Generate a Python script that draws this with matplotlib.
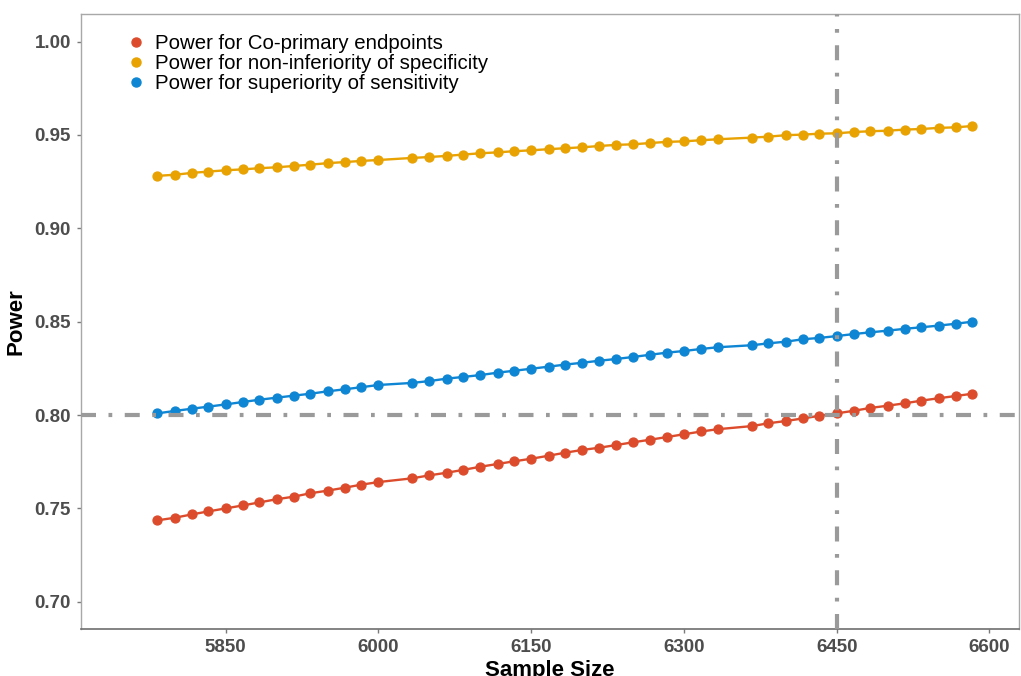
import matplotlib
matplotlib.use("Agg")
import matplotlib.pyplot as plt
from matplotlib.lines import Line2D

plt.rcParams["font.family"] = ["Liberation Sans", "DejaVu Sans"]

# sample sizes (two gaps in the original grid)
sample_size = [5783, 5800, 5817, 5833, 5850, 5867, 5883, 5900, 5917, 5933, 5950, 5967, 5983, 6000,
               6033, 6050, 6067, 6083, 6100, 6117, 6133, 6150, 6167, 6183, 6200, 6217, 6233, 6250,
               6267, 6283, 6300, 6317, 6333,
               6367, 6383, 6400, 6417, 6433, 6450, 6467, 6483, 6500, 6517, 6533, 6550, 6567, 6583]

power_coprimary = [0.7436, 0.7450, 0.7468, 0.7484, 0.7500, 0.7516, 0.7532, 0.7549, 0.7563, 0.7581,
                   0.7595, 0.7611, 0.7627, 0.7641, 0.7661, 0.7677, 0.7691, 0.7706, 0.7723, 0.7738,
                   0.7752, 0.7766, 0.7782, 0.7798, 0.7813, 0.7825, 0.7839, 0.7854, 0.7868, 0.7882,
                   0.7897, 0.7912, 0.7924, 0.7941, 0.7956, 0.7968, 0.7982, 0.7996, 0.8009, 0.8023,
                   0.8038, 0.8050, 0.8063, 0.8077, 0.8090, 0.8102, 0.8114]

power_specificity = [0.9281, 0.9287, 0.9297, 0.9304, 0.9311, 0.9316, 0.9322, 0.9327, 0.9334, 0.9341,
                     0.9349, 0.9355, 0.9361, 0.9366, 0.9377, 0.9382, 0.9388, 0.9395, 0.9402, 0.9407,
                     0.9413, 0.9418, 0.9424, 0.9429, 0.9434, 0.9441, 0.9447, 0.9450, 0.9457, 0.9463,
                     0.9466, 0.9472, 0.9477, 0.9486, 0.9491, 0.9499, 0.9502, 0.9507, 0.9509, 0.9516,
                     0.9520, 0.9523, 0.9529, 0.9532, 0.9538, 0.9541, 0.9548]

power_sensitivity = [0.8009, 0.8022, 0.8034, 0.8045, 0.8057, 0.8070, 0.8082, 0.8093, 0.8104, 0.8114,
                     0.8127, 0.8138, 0.8149, 0.8161, 0.8172, 0.8182, 0.8195, 0.8204, 0.8214, 0.8227,
                     0.8237, 0.8248, 0.8259, 0.8270, 0.8280, 0.8291, 0.8300, 0.8311, 0.8323, 0.8334,
                     0.8343, 0.8354, 0.8363, 0.8374, 0.8384, 0.8393, 0.8406, 0.8413, 0.8423, 0.8434,
                     0.8443, 0.8452, 0.8462, 0.8470, 0.8479, 0.8489, 0.8500]

labels = ["Power for Co-primary endpoints",
          "Power for non-inferiority of specificity",
          "Power for superiority of sensitivity"]
colors = ["#DC4C2C", "#E8A202", "#0E86D4"]

x_ticks = [5850, 6000, 6150, 6300, 6450, 6600]
y_ticks = [0.70, 0.75, 0.80, 0.85, 0.90, 0.95, 1.00]

fig = plt.figure(figsize=(10.21, 6.76), dpi=100)
ax = fig.add_axes([80.7 / 1021, 47 / 676, (1019 - 80.7) / 1021, (629 - 14) / 676])

for ys, col in zip([power_coprimary, power_specificity, power_sensitivity], colors):
    ax.plot(sample_size, ys, color=col, lw=1.7, marker="o", markersize=6.4, zorder=2)

# reference lines (target power and chosen sample size)
dashdot = (0, (3.6, 3.0, 0.9, 3.0))
ax.axhline(0.80, color="#9A9A9A", lw=3, linestyle=dashdot, zorder=3)
ax.axvline(6450, color="#9A9A9A", lw=3, linestyle=dashdot, zorder=3)

ax.set_xlim(5707.6, 6629)
ax.set_ylim(0.6854, 1.0148)
ax.set_xticks(x_ticks)
ax.set_yticks(y_ticks)
ax.set_yticklabels([f"{v:.2f}" for v in y_ticks])

ax.tick_params(axis="both", direction="out", length=3, width=1, color="#7A7A7A",
               labelsize=13.5, labelcolor="#4D4D4D", pad=4)
for lab in ax.get_xticklabels() + ax.get_yticklabels():
    lab.set_fontweight("bold")

for side in ["top", "right", "left"]:
    ax.spines[side].set_color("#A8A8A8")
    ax.spines[side].set_linewidth(1)
ax.spines["bottom"].set_color("#6E6E6E")
ax.spines["bottom"].set_linewidth(1.2)

ax.set_xlabel("Sample Size", fontsize=16, fontweight="bold", color="black", labelpad=3)
ax.set_ylabel("Power", fontsize=16, fontweight="bold", color="black", labelpad=6)

handles = [Line2D([], [], ls="none", marker="o", markersize=6.5, color=c) for c in colors]
ax.legend(handles, labels, loc="upper left", bbox_to_anchor=(0.042, 0.981), frameon=False,
          fontsize=14.7, handlelength=0.8, handletextpad=0.5, labelspacing=0.05,
          borderaxespad=0)

fig.savefig("out.png", dpi=100)
